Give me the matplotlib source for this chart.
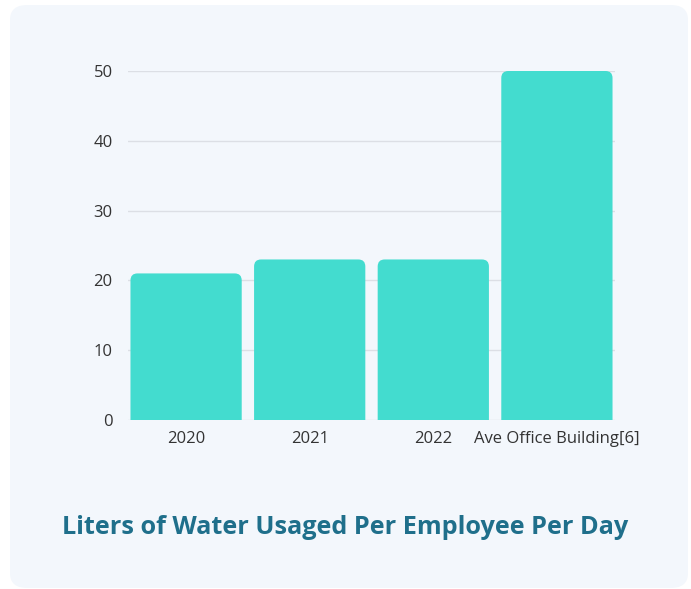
import matplotlib.pyplot as plt
from matplotlib.patches import FancyBboxPatch

# water usage per employee, litres per day
categories = ['2020', '2021', '2022', 'Ave Office Building[6]']
liters = [21, 23, 23, 50]
y_ticks = [0, 10, 20, 30, 40, 50]

bar_color = '#43dccf'
card_color = '#f3f7fc'
title_color = '#1f6f8b'

fig = plt.figure(figsize=(6.91, 5.89), dpi=100)
fig.patch.set_facecolor('white')

# rounded background card
card = FancyBboxPatch((10 / 691, 1 / 589), 678 / 691, 583 / 589,
                      boxstyle='round,pad=0,rounding_size=0.025',
                      transform=fig.transFigure, facecolor=card_color,
                      edgecolor='none', zorder=-5)
fig.patches.append(card)

ax = fig.add_axes([128 / 691, 169 / 589, 487 / 691, 349 / 589])
ax.set_facecolor('none')
ax.set_xlim(-0.47, 3.47)
ax.set_ylim(0, 50)

# bars with rounded top corners; bottom pushed below 0 and clipped
width = 0.9
px_x = 487 / 3.94
px_y = 349 / 50
radius = 7 / px_x
for i, v in enumerate(liters):
    p = FancyBboxPatch((i - width / 2, -2), width, v + 2,
                       boxstyle=f'round,pad=0,rounding_size={radius}',
                       mutation_aspect=px_x / px_y,
                       facecolor=bar_color, edgecolor='none', zorder=3)
    ax.add_patch(p)

ax.set_yticks(y_ticks)
ax.set_xticks(range(len(categories)))
ax.set_xticklabels(categories)
ax.grid(axis='y', color='#dcdfe5', linewidth=1, zorder=0)
for s in ax.spines.values():
    s.set_visible(False)
ax.tick_params(axis='both', length=0, labelsize=12, colors='#333333')
ax.tick_params(axis='y', pad=11)
ax.tick_params(axis='x', pad=8)
for lbl in ax.get_xticklabels() + ax.get_yticklabels():
    lbl.set_fontfamily('Open Sans')

fig.text(0.5, 1 - 528 / 589, 'Liters of Water Usaged Per Employee Per Day',
         ha='center', va='center', fontsize=18.2, fontweight='bold',
         color=title_color, family='Open Sans')

fig.savefig('out.png', dpi=100)
